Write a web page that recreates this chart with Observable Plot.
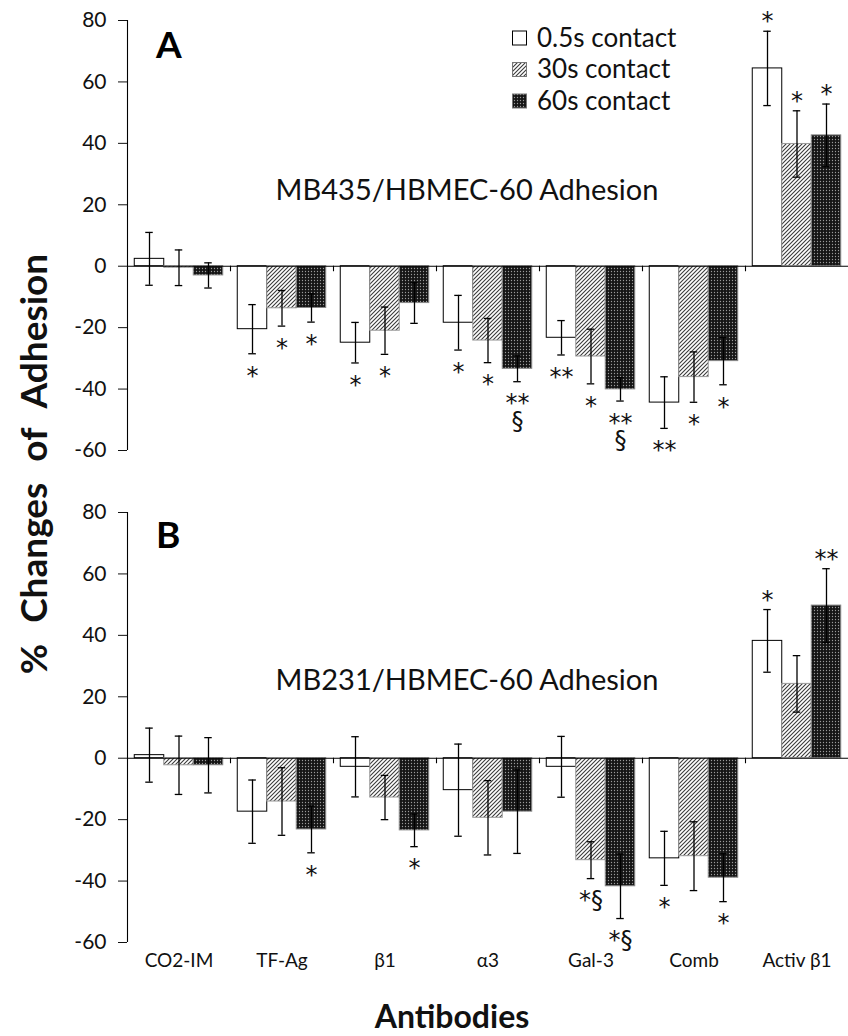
<!DOCTYPE html>
<html>
<head>
<meta charset="utf-8">
<script src="https://cdn.jsdelivr.net/npm/d3@7"></script>
<script src="https://cdn.jsdelivr.net/npm/@observablehq/plot@0.6"></script>
<style>
  html, body { margin: 0; padding: 0; background: #fff; }
  #wrap { position: relative; width: 848px; height: 1036px; font-family: Lato, "Open Sans", sans-serif; }
  #wrap > svg { position: absolute; left: 0; top: 0; }
  #overlay { pointer-events: none; }
</style>
</head>
<body>
<div id="wrap"></div>
<script>
// ---- data ----
const groups = ["CO2-IM", "TF-Ag", "β1", "α3", "Gal-3", "Comb", "Activ β1"];
const series = ["0.5s contact", "30s contact", "60s contact"];
const panels = ["A", "B"];
const yTicks = [-60, -40, -20, 0, 20, 40, 60, 80];

// Panel A: MB435/HBMEC-60
const A_mean_05 = [2.4, -20.5, -24.9, -18.4, -23.3, -44.4, 64.4];
const A_err_05  = [8.6, 8.0, 6.6, 8.9, 5.6, 8.4, 12.1];
const A_mean_30 = [-0.5, -13.7, -21.0, -24.2, -29.4, -36.1, 39.8];
const A_err_30  = [5.8, 5.8, 7.7, 7.2, 8.9, 8.2, 10.8];
const A_mean_60 = [-3.0, -13.6, -12.0, -33.4, -40.1, -30.9, 42.6];
const A_err_60  = [4.1, 4.6, 6.6, 4.2, 3.8, 7.7, 10.2];
const A_sig_05 = ["", "*", "*", "*", "**", "**", "*"];
const A_sig_30 = ["", "*", "*", "*", "*", "*", "*"];
const A_sig_60 = ["", "*", "", "**\n§", "**\n§", "*", "*"];

// Panel B: MB231/HBMEC-60
const B_mean_05 = [1.0, -17.4, -2.8, -10.4, -2.8, -32.6, 38.2];
const B_err_05  = [8.8, 10.3, 9.8, 15.0, 9.9, 8.8, 10.2];
const B_mean_30 = [-2.3, -14.1, -12.8, -19.4, -33.2, -31.9, 24.2];
const B_err_30  = [9.5, 11.0, 7.2, 12.1, 6.0, 11.2, 9.2];
const B_mean_60 = [-2.3, -23.2, -23.5, -17.4, -41.7, -38.9, 49.7];
const B_err_60  = [9.0, 7.6, 5.3, 13.6, 10.5, 7.8, 12.0];
const B_sig_05 = ["", "", "", "", "", "*", "*"];
const B_sig_30 = ["", "", "", "", "*§", "", ""];
const B_sig_60 = ["", "*", "*", "", "*§", "*", "**"];

const panelTitles = {A: "MB435/HBMEC-60 Adhesion", B: "MB231/HBMEC-60 Adhesion"};

// ---- build table ----
const rows = [];
function add(panel, s, means, errs, sigs) {
  groups.forEach((g, i) => rows.push({panel, group: g, series: series[s], value: means[i], err: errs[i], sig: sigs[i]}));
}
add("A", 0, A_mean_05, A_err_05, A_sig_05);
add("A", 1, A_mean_30, A_err_30, A_sig_30);
add("A", 2, A_mean_60, A_err_60, A_sig_60);
add("B", 0, B_mean_05, B_err_05, B_sig_05);
add("B", 1, B_mean_30, B_err_30, B_sig_30);
add("B", 2, B_mean_60, B_err_60, B_sig_60);

// ---- styles ----
const seriesStyle = {
  "0.5s contact": {fill: "white", stroke: "#000"},
  "30s contact": {fill: "url(#hatch)", stroke: "#9a9a9a"},
  "60s contact": {fill: "url(#dots)", stroke: "#8a8a8a"}
};
const W = 848, H = 1036, ML = 127, MR = 0, MT = 20, MB = 94;
const xPadOuter = 0.246;
const step = (W - ML - MR) / groups.length / (series.length + 2 * xPadOuter);
const edgeDx = -(0.5 + xPadOuter) * step; // from centre of first band to facet left edge
const starFont = "'DejaVu Sans', sans-serif";

const marks = [];
for (const s of series) {
  marks.push(Plot.barY(rows.filter(d => d.series === s), {
    fx: "group", fy: "panel", x: "series", y: "value",
    fill: seriesStyle[s].fill, stroke: seriesStyle[s].stroke, strokeWidth: 1
  }));
}
marks.push(
  Plot.ruleY([0], {stroke: "#000", strokeWidth: 1.1}),
  // y axis line (first facet) and group-boundary ticks on the zero line
  Plot.ruleX([groups[0]], {fx: d => d, x: () => series[0], y1: -60, y2: 80, dx: edgeDx, stroke: "#000", strokeWidth: 1.1}),
  Plot.ruleX(groups.slice(1), {fx: d => d, x: () => series[0], y1: 0, y2: -1.8, dx: edgeDx, stroke: "#000", strokeWidth: 1.1}),
  // error bars
  Plot.ruleX(rows, {fx: "group", fy: "panel", x: "series", y1: d => d.value - d.err, y2: d => d.value + d.err, stroke: "#000", strokeWidth: 1.3}),
  Plot.tickY(rows, {fx: "group", fy: "panel", x: "series", y: d => d.value + d.err, insetLeft: 11, insetRight: 11, stroke: "#000", strokeWidth: 1.3}),
  Plot.tickY(rows, {fx: "group", fy: "panel", x: "series", y: d => d.value - d.err, insetLeft: 11, insetRight: 11, stroke: "#000", strokeWidth: 1.3}),
  // significance marks
  Plot.text(rows.filter(d => d.sig && d.value < 0), {fx: "group", fy: "panel", x: "series", y: d => d.value - d.err, text: "sig",
    lineAnchor: "top", lineHeight: 0.72, dy: 17.5, fontSize: 24, fontFamily: starFont, fill: "#111"}),
  Plot.text(rows.filter(d => d.sig && d.value >= 0), {fx: "group", fy: "panel", x: "series", y: d => d.value + d.err, text: "sig",
    lineAnchor: "bottom", dy: -2, fontSize: 24, fontFamily: starFont, fill: "#111"}),
  // axes
  Plot.axisY({ticks: yTicks, tickSize: 9, tickPadding: 12, fontSize: 21, label: null, tickFormat: d => String(d)}),
  Plot.axisFx({anchor: "bottom", tickSize: 0, tickPadding: 11, fontSize: 19, label: null})
);

const chart = Plot.plot({
  width: W, height: H,
  marginLeft: ML, marginRight: MR, marginTop: MT, marginBottom: MB,
  style: {fontFamily: "Lato, 'Open Sans', sans-serif", fontSize: "21px", color: "#111", background: "transparent"},
  fx: {domain: groups, paddingInner: 0, paddingOuter: 0, round: false, axis: null, label: null},
  fy: {domain: panels, paddingInner: 0.126, paddingOuter: 0, round: false, axis: null, label: null},
  x: {domain: series, paddingInner: 0, paddingOuter: xPadOuter, round: false, axis: null, label: null},
  y: {domain: [-60, 80], axis: null, label: null},
  marks
});
d3.select(chart).selectAll('g[aria-label="y-axis tick label"]').attr("font-size", 21).selectAll("text").style("font-size", "21px");
d3.select(chart).selectAll('g[aria-label="fx-axis tick label"]').attr("font-size", 19).selectAll("text").style("font-size", "19px");
document.getElementById("wrap").appendChild(chart);

// ---- overlay: patterns, panel letters, titles, legend ----
const ov = d3.select("#wrap").append("svg").attr("id", "overlay").attr("width", W).attr("height", H)
  .attr("font-family", "Lato, 'Open Sans', sans-serif");
const defs = ov.append("defs");
const hatch = defs.append("pattern").attr("id", "hatch").attr("patternUnits", "userSpaceOnUse").attr("width", 4).attr("height", 4);
hatch.append("rect").attr("width", 4).attr("height", 4).attr("fill", "#fff");
hatch.append("path").attr("d", "M-1,1 l2,-2 M0,4 l4,-4 M3,5 l2,-2").attr("stroke", "#3a3a3a").attr("stroke-width", 1.1);
const dots = defs.append("pattern").attr("id", "dots").attr("patternUnits", "userSpaceOnUse").attr("width", 3).attr("height", 3);
dots.append("rect").attr("width", 3).attr("height", 3).attr("fill", "#151515");
dots.append("circle").attr("cx", 1.5).attr("cy", 1.5).attr("r", 0.65).attr("fill", "#9a9a9a");

// panel letters and titles
const panelBase = {A: {letter: 58, title: 200}, B: {letter: 548, title: 690}};
for (const p of panels) {
  ov.append("text").attr("x", 156).attr("y", panelBase[p].letter).attr("font-size", 37).attr("font-weight", "bold").attr("fill", "#000").text(p);
  ov.append("text").attr("x", 467).attr("y", panelBase[p].title).attr("text-anchor", "middle").attr("font-size", 29).attr("fill", "#111").text(panelTitles[p]);
}
// legend
series.forEach((s, i) => {
  const cy = 38 + i * 31.5;
  ov.append("rect").attr("x", 512.5).attr("y", cy - 7).attr("width", 14).attr("height", 14)
    .attr("fill", seriesStyle[s].fill).attr("stroke", i === 0 ? "#000" : "#777").attr("stroke-width", 1);
  ov.append("text").attr("x", 537).attr("y", cy + 8.5).attr("font-size", 26).attr("fill", "#111").text(s);
});
// axis titles
ov.append("text").attr("x", 452).attr("y", 1028).attr("text-anchor", "middle").attr("font-size", 32).attr("font-weight", "bold").attr("fill", "#111").text("Antibodies");
ov.append("text").attr("transform", "translate(47,464) rotate(-90)").attr("text-anchor", "middle").attr("font-size", 37)
  .attr("font-weight", "bold").attr("fill", "#111").attr("word-spacing", 12).text("% Changes of Adhesion");
</script>
</body>
</html>
